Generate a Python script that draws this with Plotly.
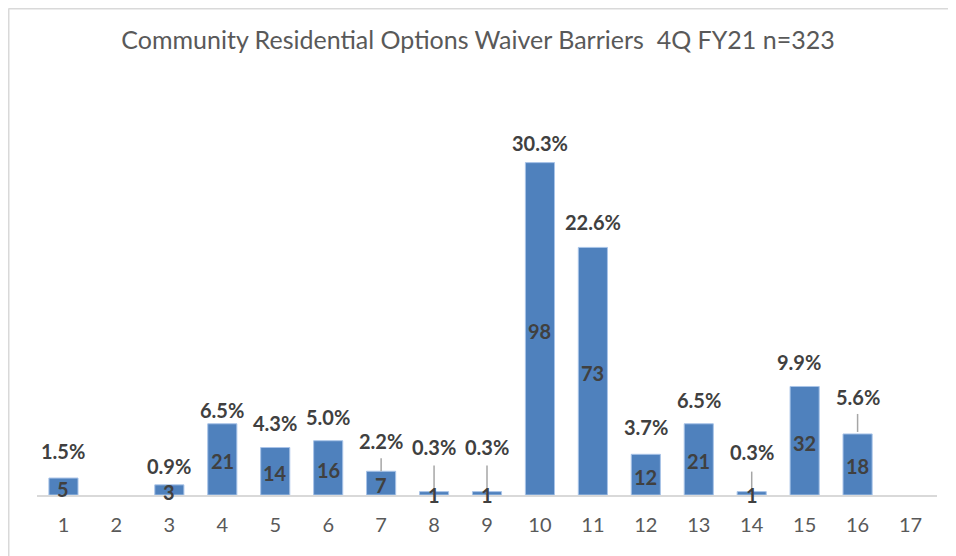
"""Community Residential Options Waiver Barriers, 4Q FY21 bar chart."""

import plotly.graph_objects as go

# data
categories = list(range(1, 18))
counts = [5, None, 3, 21, 14, 16, 7, 1, 1, 98, 73, 12, 21, 1, 32, 18, None]
pct_labels = ["1.5%", None, "0.9%", "6.5%", "4.3%", "5.0%", "2.2%", "0.3%", "0.3%",
              "30.3%", "22.6%", "3.7%", "6.5%", "0.3%", "9.9%", "5.6%", None]

# label placement (pixels above bar top, x nudge) as Excel had moved them
pct_yshift = [27, 0, 19, 14, 25, 24, 30, 45, 45, 20, 25, 27, 24, 40, 24, 37, 0]
pct_xshift = [0, 0, 0, 0, 0, 0, 0, 0, 0, 0, 0, 0, 0, 0, -6, 0, 0]
# leader lines: (category index, start px, end px) relative to bar top
leaders = [(6, 0, 13), (7, -3, 26), (8, -3, 26), (13, -2, 20), (15, 2, 20)]

BLUE = "#4F81BD"
DARK = "#404040"
GREY = "#595959"
FONT = "Lato"

# the page body adds 8px around the figure
W, H = 948, 548
ML, MT, PW, PH = 29, 80, 900, 407

fig = go.Figure()
fig.add_trace(go.Bar(
    x=categories,
    y=counts,
    width=0.55,
    marker=dict(color=BLUE, line=dict(color="#a9c4e8", width=1)),
    hoverinfo="skip",
))

annotations = []
for cat, val, pct, ys, xs in zip(categories, counts, pct_labels, pct_yshift, pct_xshift):
    if val is None:
        continue
    # count label, centred in the bar
    annotations.append(dict(
        x=cat, y=val / 2, xref="x", yref="y", text=str(val), showarrow=False,
        yshift=-2, font=dict(family=FONT, size=20, color=DARK, weight="bold"),
    ))
    annotations.append(dict(
        x=cat, y=val, xref="x", yref="y", text=pct, showarrow=False,
        yshift=ys, xshift=xs, yanchor="middle",
        font=dict(family=FONT, size=20, color=DARK, weight="bold"),
    ))

shapes = []
for idx, y0, y1 in leaders:
    shapes.append(dict(
        type="line", xref="x", yref="y", x0=categories[idx], x1=categories[idx],
        ysizemode="pixel", yanchor=counts[idx], y0=y0, y1=y1,
        line=dict(color="#a6a6a6", width=1.5),
    ))

# chart frame (only top and left edge fall inside the picture)
fx = (0.5 - ML) / PW
fy = (MT + PH - 0.5) / PH
shapes.append(dict(type="line", xref="paper", yref="paper", x0=fx, x1=fx,
                   y0=-0.3, y1=fy, line=dict(color="#d9d9d9", width=2)))
shapes.append(dict(type="line", xref="paper", yref="paper", x0=fx, x1=1.1,
                   y0=fy, y1=fy, line=dict(color="#d9d9d9", width=2)))

fig.update_layout(
    width=W,
    height=H,
    margin=dict(l=ML, r=W - ML - PW, t=MT, b=H - MT - PH, autoexpand=False),
    paper_bgcolor="white",
    plot_bgcolor="white",
    showlegend=False,
    title=dict(
        text="Community Residential Options Waiver Barriers  4Q FY21 n=323",
        x=470 / W, xref="container", xanchor="center",
        y=1 - 32 / H, yanchor="middle",
        font=dict(family=FONT, size=25, color=GREY),
    ),
    annotations=annotations,
    shapes=shapes,
)
fig.update_xaxes(
    range=[0.5, 17.5],
    tickmode="array",
    tickvals=categories,
    ticktext=[str(c) for c in categories],
    showgrid=False,
    zeroline=False,
    showline=True,
    linecolor="#d9d9d9",
    linewidth=2,
    ticks="",
    automargin=False,
    ticklabelstandoff=11,
    tickfont=dict(family=FONT, size=20, color=GREY),
)
fig.update_yaxes(range=[0, 120], visible=False, automargin=False)

fig.write_html("out.html")
